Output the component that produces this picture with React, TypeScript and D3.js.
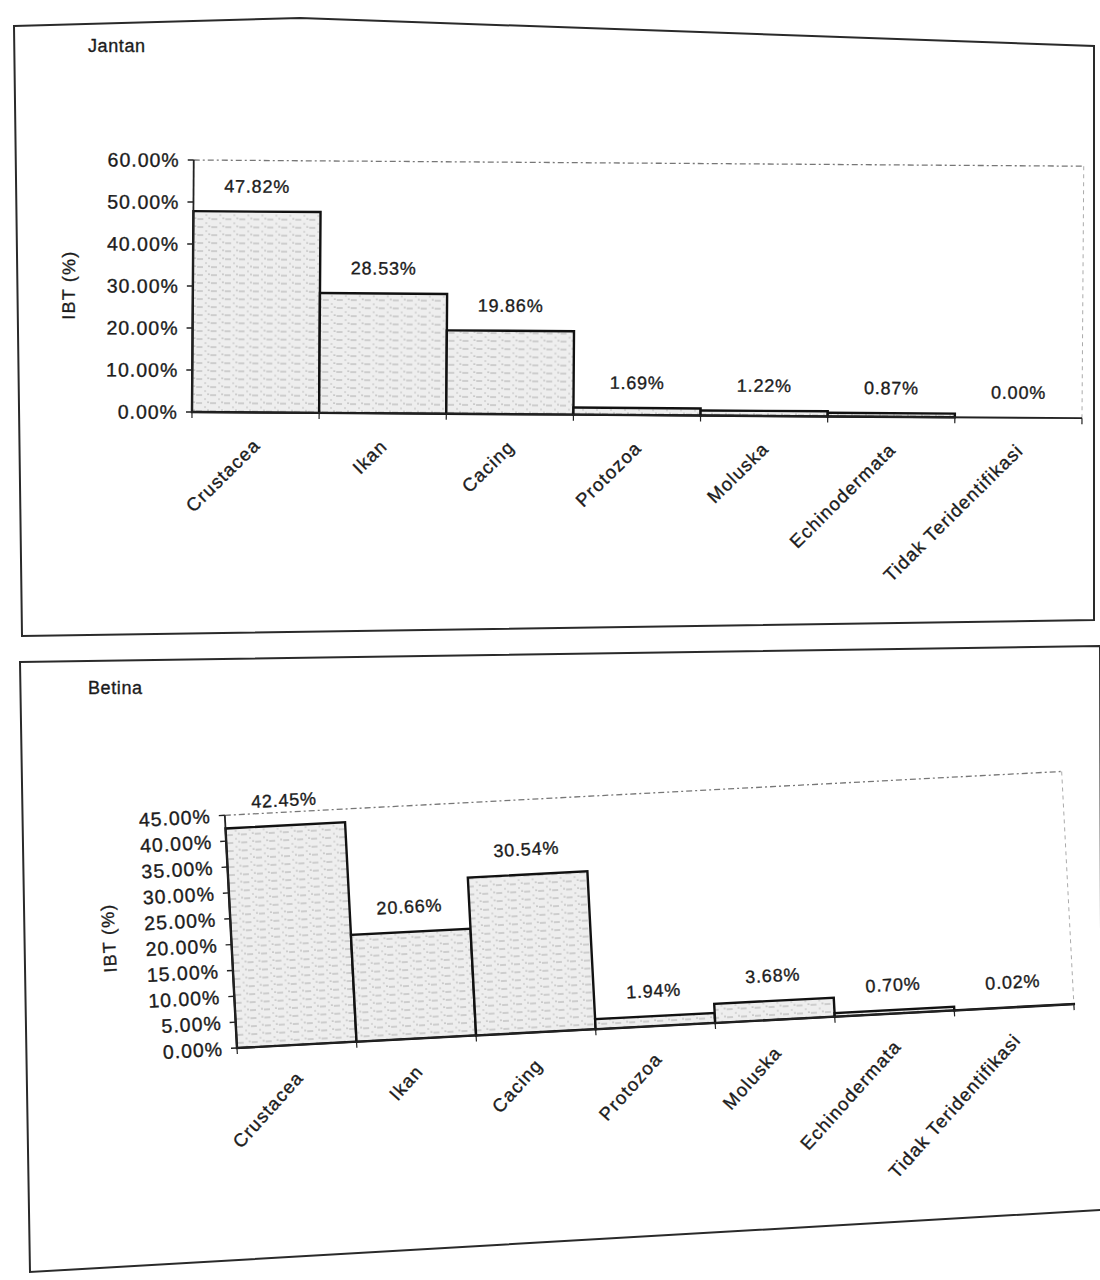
import React from "react";
import * as d3 from "d3";

const categories = [
  "Crustacea",
  "Ikan",
  "Cacing",
  "Protozoa",
  "Moluska",
  "Echinodermata",
  "Tidak Teridentifikasi",
];
const jantanValues = [47.82, 28.53, 19.86, 1.69, 1.22, 0.87, 0.0];
const betinaValues = [42.45, 20.66, 30.54, 1.94, 3.68, 0.7, 0.02];
const jantanTicks = [0, 10, 20, 30, 40, 50, 60];
const betinaTicks = [0, 5, 10, 15, 20, 25, 30, 35, 40, 45];

const FONT = "'Liberation Sans', Arial, sans-serif";
const INK = "#1c1c1c";

type Pt = [number, number];

type PanelProps = {
  title: string;
  values: number[];
  ticks: number[];
  frame: Pt[];
  titlePos: Pt;
  plot: { x0: number; x1: number; yTop: number; yBase: number };
  yLabelX: number;
  rotate: number;
};

// frame around each chart sheet
const frameLine = d3
  .line<Pt>()
  .x((d) => d[0])
  .y((d) => d[1])
  .curve(d3.curveLinearClosed);

const inkText = { fill: INK, stroke: INK, strokeWidth: 0.35, fontFamily: FONT };

function Panel({ title, values, ticks, frame, titlePos, plot, yLabelX, rotate }: PanelProps) {
  const x = d3
    .scaleBand<string>()
    .domain(categories)
    .range([plot.x0, plot.x1])
    .paddingInner(0)
    .paddingOuter(0);
  const y = d3
    .scaleLinear()
    .domain([0, ticks[ticks.length - 1]])
    .range([plot.yBase, plot.yTop]);
  const fmt = (v: number) => v.toFixed(2) + "%";

  return (
    <g>
      <path d={frameLine(frame) ?? ""} fill="none" stroke="#2a2a2a" strokeWidth={2} />
      <text x={titlePos[0]} y={titlePos[1]} fontSize={18} letterSpacing={0.6} {...inkText}>
        {title}
      </text>

      <g transform={`rotate(${rotate}, ${plot.x0}, ${plot.yBase})`}>
        {/* plot area outline */}
        <line
          x1={plot.x0}
          x2={plot.x1}
          y1={plot.yTop}
          y2={plot.yTop}
          stroke="#777"
          strokeWidth={1.3}
          strokeDasharray="6 3 2 3"
        />
        <line
          x1={plot.x1}
          x2={plot.x1}
          y1={plot.yTop}
          y2={plot.yBase}
          stroke="#aaa"
          strokeWidth={1}
          strokeDasharray="4 4"
        />

        {/* bars */}
        {values.map((v, i) => (
          <rect
            key={categories[i]}
            x={x(categories[i])!}
            y={y(v)}
            width={x.bandwidth()}
            height={plot.yBase - y(v)}
            fill="url(#scanFill)"
            stroke="#111"
            strokeWidth={2.4}
          />
        ))}

        {/* value labels */}
        {values.map((v, i) => (
          <text
            key={"lbl" + i}
            x={x(categories[i])! + x.bandwidth() / 2}
            y={Math.min(y(v), plot.yBase) - 19}
            textAnchor="middle"
            fontSize={18}
            letterSpacing={0.8}
            {...inkText}
          >
            {fmt(v)}
          </text>
        ))}

        {/* y axis */}
        <line x1={plot.x0} x2={plot.x0} y1={plot.yTop} y2={plot.yBase} stroke="#222" strokeWidth={1.8} />
        {ticks.map((t) => (
          <g key={"yt" + t}>
            <line x1={plot.x0 - 6} x2={plot.x0} y1={y(t)} y2={y(t)} stroke="#222" strokeWidth={1.4} />
            <text
              x={plot.x0 - 14}
              y={y(t)}
              dy="0.36em"
              textAnchor="end"
              fontSize={19.5}
              letterSpacing={1}
              {...inkText}
            >
              {fmt(t)}
            </text>
          </g>
        ))}
        <text
          transform={`translate(${yLabelX}, ${(plot.yTop + plot.yBase) / 2}) rotate(-90)`}
          textAnchor="middle"
          fontSize={18}
          letterSpacing={1.2}
          {...inkText}
        >
          IBT (%)
        </text>

        {/* x axis */}
        <line x1={plot.x0} x2={plot.x1} y1={plot.yBase} y2={plot.yBase} stroke="#222" strokeWidth={1.8} />
        {d3.range(categories.length + 1).map((i) => {
          const xv = plot.x0 + i * x.bandwidth();
          return (
            <line key={"xt" + i} x1={xv} x2={xv} y1={plot.yBase} y2={plot.yBase + 6} stroke="#222" strokeWidth={1.2} />
          );
        })}
        {categories.map((c) => (
          <text
            key={"xl" + c}
            transform={`translate(${x(c)! + x.bandwidth() / 2 + 6}, ${plot.yBase + 34}) rotate(-45)`}
            textAnchor="end"
            fontSize={18.5}
            letterSpacing={1.2}
            {...inkText}
          >
            {c}
          </text>
        ))}
      </g>
    </g>
  );
}

export default function App() {
  return (
    <svg
      width={1100}
      height={1280}
      style={{ position: "absolute", left: 0, top: 0, background: "#fff" }}
    >
      <defs>
        <pattern id="scanFill" width={14} height={8} patternUnits="userSpaceOnUse">
          <rect width={14} height={8} fill="#eeeeee" />
          <line x1={0} x2={6} y1={3} y2={3} stroke="#9a9a9a" strokeWidth={0.8} />
          <line x1={8} x2={10} y1={7} y2={7} stroke="#b0b0b0" strokeWidth={0.8} />
          <circle cx={12} cy={2} r={0.6} fill="#666" />
        </pattern>
      </defs>

      <Panel
        title="Jantan"
        values={jantanValues}
        ticks={jantanTicks}
        frame={[
          [14, 26],
          [300, 18],
          [1094, 46],
          [1094, 620],
          [22, 636],
        ]}
        titlePos={[88, 52]}
        plot={{ x0: 192, x1: 1082, yTop: 160, yBase: 412 }}
        yLabelX={74}
        rotate={0.4}
      />
      <Panel
        title="Betina"
        values={betinaValues}
        ticks={betinaTicks}
        frame={[
          [20, 662],
          [1100, 646],
          [1102, 1210],
          [30, 1272],
        ]}
        titlePos={[88, 694]}
        plot={{ x0: 237, x1: 1075, yTop: 815, yBase: 1048 }}
        yLabelX={121}
        rotate={-3}
      />
    </svg>
  );
}
